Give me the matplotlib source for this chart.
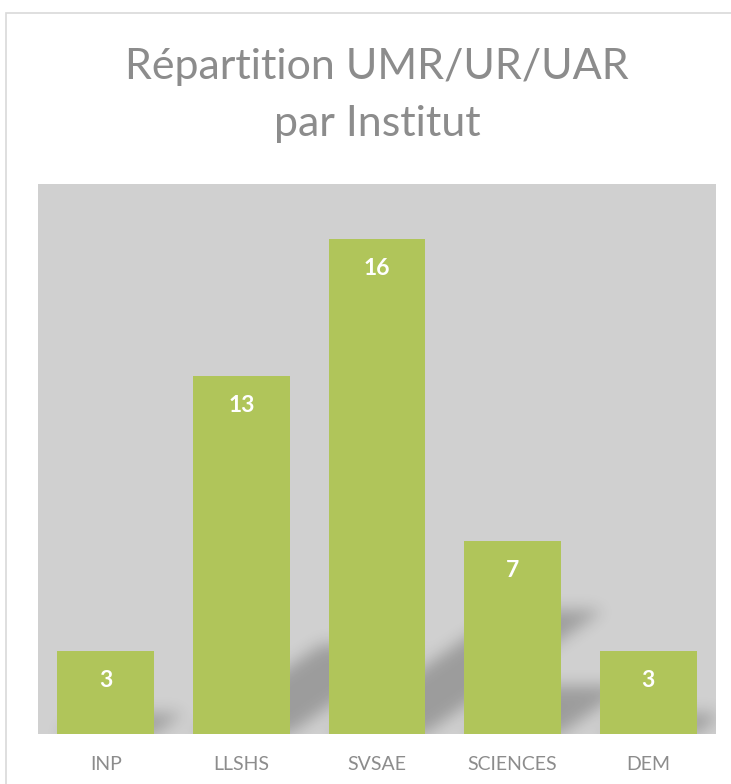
import numpy as np
import matplotlib
matplotlib.use('Agg')
import matplotlib.pyplot as plt
from matplotlib.colors import LinearSegmentedColormap
from matplotlib.patches import Rectangle

# Data
categories = ['INP', 'LLSHS', 'SVSAE', 'SCIENCES', 'DEM']
bar_heights = [3, 13, 18, 7, 3]          # heights as drawn
label_texts = ['3', '13', '16', '7', '3']  # labels as printed on the bars

plt.rcParams['font.family'] = ['Lato', 'DejaVu Sans']

fig = plt.figure(figsize=(7.31, 7.84), dpi=100)
fig.patch.set_facecolor('white')

# light frame around the chart
fig.patches.append(Rectangle((6 / 731, -0.02), 1.0, (784 - 13) / 784 + 0.02,
                             transform=fig.transFigure, facecolor='none',
                             edgecolor='#d9d9d9', linewidth=1.2))

ax = fig.add_axes([38 / 731, 50.5 / 784, 678 / 731, 549.5 / 784])
ax.set_facecolor('#d0d0d0')
ax.set_xlim(-0.5, 4.5)
ax.set_ylim(0, 20)

x = np.arange(len(categories))
w = 0.715

# soft skewed shadow behind each bar
gx = np.linspace(-0.5, 4.5, 700)
gy = np.linspace(0, 20, 560)
GX, GY = np.meshgrid(gx, gy)
mask = np.zeros_like(GX)
for xi, h in zip(x, bar_heights):
    sh = 0.25 * h
    dx = 0.073 * h
    t = np.clip(GY / sh, 0, None)
    inside = (GY <= sh) & (GX - dx * t >= xi - w / 2) & (GX - dx * t <= xi + w / 2)
    mask[inside] = 1.0
k = np.exp(-0.5 * (np.arange(-25, 26) / 8.0) ** 2)
k /= k.sum()
mask = np.apply_along_axis(lambda r: np.convolve(r, k, mode='same'), 1, mask)
mask = np.apply_along_axis(lambda c: np.convolve(c, k, mode='same'), 0, mask)
shadow_cmap = LinearSegmentedColormap.from_list('sh', [(0, 0, 0, 0), (0, 0, 0, 0.25)])
ax.imshow(mask, extent=(-0.5, 4.5, 0, 20), origin='lower', aspect='auto',
          cmap=shadow_cmap, vmin=0, vmax=1, zorder=1, interpolation='bilinear')

bars = ax.bar(x, bar_heights, width=w, color='#b0c55a', zorder=2)

for b, txt in zip(bars, label_texts):
    ax.annotate(txt, (b.get_x() + b.get_width() / 2, b.get_height()),
                xytext=(0, -21), textcoords='offset points', ha='center', va='center',
                color='white', fontsize=16.5, fontweight='bold', zorder=3)

ax.set_xticks(x)
ax.set_xticklabels(categories, color='#8c8c8c', fontsize=14)
ax.tick_params(axis='x', length=0, pad=16)
ax.set_yticks([])
for s in ax.spines.values():
    s.set_visible(False)

fig.text(377 / 731, 1 - 67 / 784, 'Répartition UMR/UR/UAR', ha='center', va='center',
         color='#8c8c8c', fontsize=31)
fig.text(377 / 731, 1 - 124 / 784, 'par Institut', ha='center', va='center',
         color='#8c8c8c', fontsize=31)

fig.savefig('out.png', dpi=100)
